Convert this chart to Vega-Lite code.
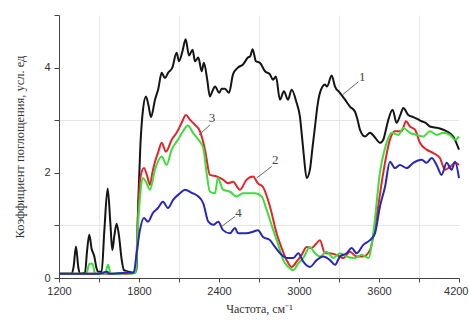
{
"$schema": "https://vega.github.io/schema/vega-lite/v6.json",
"width": 400, "height": 263,
"autosize": {"type": "none"},
"padding": {"left": 59, "top": 15, "right": 10, "bottom": 42},
"background": "white",
"config": {"view": {"stroke": null}},
"datasets": {
"spectra": [
{"x":1200,"y":0.08,"s":"1"},{"x":1295,"y":0.08,"s":"1"},{"x":1310,"y":0.22,"s":"1"},{"x":1327,"y":0.6,"s":"1"},{"x":1345,"y":0.2,"s":"1"},{"x":1360,"y":0.08,"s":"1"},{"x":1395,"y":0.1,"s":"1"},{"x":1410,"y":0.5,"s":"1"},{"x":1427,"y":0.82,"s":"1"},{"x":1445,"y":0.55,"s":"1"},{"x":1465,"y":0.41,"s":"1"},{"x":1480,"y":0.2,"s":"1"},{"x":1495,"y":0.12,"s":"1"},{"x":1520,"y":0.12,"s":"1"},{"x":1540,"y":0.9,"s":"1"},{"x":1565,"y":1.7,"s":"1"},{"x":1585,"y":1.05,"s":"1"},{"x":1600,"y":0.53,"s":"1"},{"x":1615,"y":0.8,"s":"1"},{"x":1632,"y":1.03,"s":"1"},{"x":1650,"y":0.8,"s":"1"},{"x":1670,"y":0.35,"s":"1"},{"x":1687,"y":0.15,"s":"1"},{"x":1720,"y":0.12,"s":"1"},{"x":1760,"y":0.1,"s":"1"},{"x":1780,"y":0.15,"s":"1"},{"x":1795,"y":1.5,"s":"1"},{"x":1810,"y":2.5,"s":"1"},{"x":1830,"y":3.2,"s":"1"},{"x":1852,"y":3.45,"s":"1"},{"x":1870,"y":3.3,"s":"1"},{"x":1890,"y":3.06,"s":"1"},{"x":1920,"y":3.39,"s":"1"},{"x":1945,"y":3.6,"s":"1"},{"x":1970,"y":3.9,"s":"1"},{"x":1995,"y":3.8,"s":"1"},{"x":2018,"y":3.9,"s":"1"},{"x":2050,"y":4.0,"s":"1"},{"x":2082,"y":4.28,"s":"1"},{"x":2100,"y":4.12,"s":"1"},{"x":2125,"y":4.3,"s":"1"},{"x":2150,"y":4.54,"s":"1"},{"x":2175,"y":4.23,"s":"1"},{"x":2202,"y":4.34,"s":"1"},{"x":2220,"y":4.12,"s":"1"},{"x":2245,"y":4.19,"s":"1"},{"x":2270,"y":3.93,"s":"1"},{"x":2287,"y":4.09,"s":"1"},{"x":2310,"y":3.8,"s":"1"},{"x":2332,"y":3.45,"s":"1"},{"x":2350,"y":3.55,"s":"1"},{"x":2370,"y":3.64,"s":"1"},{"x":2402,"y":3.52,"s":"1"},{"x":2420,"y":3.6,"s":"1"},{"x":2445,"y":3.6,"s":"1"},{"x":2475,"y":3.52,"s":"1"},{"x":2505,"y":3.87,"s":"1"},{"x":2542,"y":4.0,"s":"1"},{"x":2580,"y":4.06,"s":"1"},{"x":2617,"y":4.19,"s":"1"},{"x":2635,"y":4.22,"s":"1"},{"x":2652,"y":4.35,"s":"1"},{"x":2677,"y":4.12,"s":"1"},{"x":2707,"y":4.09,"s":"1"},{"x":2745,"y":3.93,"s":"1"},{"x":2782,"y":3.87,"s":"1"},{"x":2805,"y":3.77,"s":"1"},{"x":2827,"y":3.83,"s":"1"},{"x":2857,"y":3.39,"s":"1"},{"x":2887,"y":3.55,"s":"1"},{"x":2917,"y":3.39,"s":"1"},{"x":2945,"y":3.58,"s":"1"},{"x":2982,"y":3.33,"s":"1"},{"x":3007,"y":3.07,"s":"1"},{"x":3022,"y":2.7,"s":"1"},{"x":3037,"y":2.31,"s":"1"},{"x":3057,"y":1.9,"s":"1"},{"x":3082,"y":2.06,"s":"1"},{"x":3100,"y":2.45,"s":"1"},{"x":3120,"y":2.88,"s":"1"},{"x":3140,"y":3.3,"s":"1"},{"x":3157,"y":3.52,"s":"1"},{"x":3195,"y":3.68,"s":"1"},{"x":3210,"y":3.64,"s":"1"},{"x":3245,"y":3.85,"s":"1"},{"x":3270,"y":3.64,"s":"1"},{"x":3307,"y":3.52,"s":"1"},{"x":3345,"y":3.39,"s":"1"},{"x":3382,"y":3.26,"s":"1"},{"x":3420,"y":3.16,"s":"1"},{"x":3440,"y":3.0,"s":"1"},{"x":3457,"y":2.82,"s":"1"},{"x":3495,"y":2.69,"s":"1"},{"x":3532,"y":2.76,"s":"1"},{"x":3570,"y":2.67,"s":"1"},{"x":3607,"y":2.57,"s":"1"},{"x":3632,"y":2.63,"s":"1"},{"x":3650,"y":2.8,"s":"1"},{"x":3670,"y":3.01,"s":"1"},{"x":3702,"y":3.2,"s":"1"},{"x":3732,"y":2.95,"s":"1"},{"x":3760,"y":3.1,"s":"1"},{"x":3782,"y":3.23,"s":"1"},{"x":3820,"y":3.1,"s":"1"},{"x":3857,"y":3.06,"s":"1"},{"x":3890,"y":3.02,"s":"1"},{"x":3920,"y":2.98,"s":"1"},{"x":3950,"y":2.95,"s":"1"},{"x":3982,"y":2.88,"s":"1"},{"x":4045,"y":2.85,"s":"1"},{"x":4107,"y":2.79,"s":"1"},{"x":4157,"y":2.69,"s":"1"},{"x":4200,"y":2.44,"s":"1"},
{"x":1200,"y":0.08,"s":"2"},{"x":1500,"y":0.08,"s":"2"},{"x":1700,"y":0.08,"s":"2"},{"x":1775,"y":0.1,"s":"2"},{"x":1792,"y":1.17,"s":"2"},{"x":1810,"y":1.9,"s":"2"},{"x":1837,"y":2.09,"s":"2"},{"x":1860,"y":1.95,"s":"2"},{"x":1882,"y":1.77,"s":"2"},{"x":1900,"y":2.0,"s":"2"},{"x":1920,"y":2.21,"s":"2"},{"x":1945,"y":2.4,"s":"2"},{"x":1970,"y":2.57,"s":"2"},{"x":2002,"y":2.4,"s":"2"},{"x":2045,"y":2.63,"s":"2"},{"x":2082,"y":2.76,"s":"2"},{"x":2120,"y":2.95,"s":"2"},{"x":2152,"y":3.1,"s":"2"},{"x":2182,"y":3.01,"s":"2"},{"x":2220,"y":2.91,"s":"2"},{"x":2257,"y":2.79,"s":"2"},{"x":2295,"y":2.44,"s":"2"},{"x":2332,"y":1.96,"s":"2"},{"x":2382,"y":1.93,"s":"2"},{"x":2430,"y":1.87,"s":"2"},{"x":2467,"y":1.8,"s":"2"},{"x":2505,"y":1.83,"s":"2"},{"x":2557,"y":1.68,"s":"2"},{"x":2607,"y":1.87,"s":"2"},{"x":2655,"y":1.93,"s":"2"},{"x":2692,"y":1.8,"s":"2"},{"x":2730,"y":1.73,"s":"2"},{"x":2782,"y":1.36,"s":"2"},{"x":2832,"y":0.85,"s":"2"},{"x":2870,"y":0.57,"s":"2"},{"x":2907,"y":0.34,"s":"2"},{"x":2945,"y":0.21,"s":"2"},{"x":2982,"y":0.31,"s":"2"},{"x":3020,"y":0.44,"s":"2"},{"x":3057,"y":0.59,"s":"2"},{"x":3095,"y":0.57,"s":"2"},{"x":3132,"y":0.66,"s":"2"},{"x":3157,"y":0.72,"s":"2"},{"x":3195,"y":0.47,"s":"2"},{"x":3232,"y":0.47,"s":"2"},{"x":3282,"y":0.44,"s":"2"},{"x":3332,"y":0.38,"s":"2"},{"x":3382,"y":0.5,"s":"2"},{"x":3432,"y":0.41,"s":"2"},{"x":3482,"y":0.41,"s":"2"},{"x":3532,"y":0.53,"s":"2"},{"x":3582,"y":1.17,"s":"2"},{"x":3632,"y":2.0,"s":"2"},{"x":3682,"y":2.63,"s":"2"},{"x":3720,"y":2.79,"s":"2"},{"x":3770,"y":2.79,"s":"2"},{"x":3802,"y":2.98,"s":"2"},{"x":3832,"y":2.88,"s":"2"},{"x":3870,"y":2.82,"s":"2"},{"x":3907,"y":2.57,"s":"2"},{"x":3957,"y":2.44,"s":"2"},{"x":4005,"y":2.38,"s":"2"},{"x":4057,"y":2.28,"s":"2"},{"x":4095,"y":2.06,"s":"2"},{"x":4132,"y":2.11,"s":"2"},{"x":4170,"y":2.19,"s":"2"},{"x":4200,"y":2.15,"s":"2"},
{"x":1200,"y":0.08,"s":"3"},{"x":1405,"y":0.08,"s":"3"},{"x":1428,"y":0.27,"s":"3"},{"x":1450,"y":0.27,"s":"3"},{"x":1472,"y":0.08,"s":"3"},{"x":1545,"y":0.08,"s":"3"},{"x":1568,"y":0.25,"s":"3"},{"x":1588,"y":0.08,"s":"3"},{"x":1680,"y":0.08,"s":"3"},{"x":1700,"y":0.11,"s":"3"},{"x":1720,"y":0.08,"s":"3"},{"x":1775,"y":0.1,"s":"3"},{"x":1792,"y":0.97,"s":"3"},{"x":1810,"y":1.6,"s":"3"},{"x":1827,"y":1.9,"s":"3"},{"x":1852,"y":1.83,"s":"3"},{"x":1882,"y":1.68,"s":"3"},{"x":1920,"y":2.06,"s":"3"},{"x":1970,"y":2.31,"s":"3"},{"x":2007,"y":2.15,"s":"3"},{"x":2045,"y":2.44,"s":"3"},{"x":2092,"y":2.63,"s":"3"},{"x":2130,"y":2.79,"s":"3"},{"x":2167,"y":2.9,"s":"3"},{"x":2205,"y":2.76,"s":"3"},{"x":2245,"y":2.63,"s":"3"},{"x":2282,"y":2.47,"s":"3"},{"x":2307,"y":2.0,"s":"3"},{"x":2332,"y":1.64,"s":"3"},{"x":2370,"y":1.61,"s":"3"},{"x":2392,"y":1.9,"s":"3"},{"x":2430,"y":1.68,"s":"3"},{"x":2482,"y":1.64,"s":"3"},{"x":2532,"y":1.55,"s":"3"},{"x":2580,"y":1.61,"s":"3"},{"x":2607,"y":1.61,"s":"3"},{"x":2670,"y":1.61,"s":"3"},{"x":2720,"y":1.55,"s":"3"},{"x":2757,"y":1.3,"s":"3"},{"x":2807,"y":0.91,"s":"3"},{"x":2845,"y":0.63,"s":"3"},{"x":2882,"y":0.34,"s":"3"},{"x":2920,"y":0.21,"s":"3"},{"x":2957,"y":0.15,"s":"3"},{"x":2995,"y":0.28,"s":"3"},{"x":3032,"y":0.38,"s":"3"},{"x":3082,"y":0.59,"s":"3"},{"x":3120,"y":0.47,"s":"3"},{"x":3157,"y":0.41,"s":"3"},{"x":3207,"y":0.5,"s":"3"},{"x":3257,"y":0.38,"s":"3"},{"x":3307,"y":0.47,"s":"3"},{"x":3357,"y":0.41,"s":"3"},{"x":3420,"y":0.38,"s":"3"},{"x":3470,"y":0.44,"s":"3"},{"x":3520,"y":0.38,"s":"3"},{"x":3557,"y":0.85,"s":"3"},{"x":3607,"y":2.0,"s":"3"},{"x":3657,"y":2.57,"s":"3"},{"x":3695,"y":2.76,"s":"3"},{"x":3745,"y":2.72,"s":"3"},{"x":3782,"y":2.85,"s":"3"},{"x":3832,"y":2.76,"s":"3"},{"x":3882,"y":2.72,"s":"3"},{"x":3932,"y":2.69,"s":"3"},{"x":3982,"y":2.79,"s":"3"},{"x":4032,"y":2.72,"s":"3"},{"x":4082,"y":2.76,"s":"3"},{"x":4132,"y":2.72,"s":"3"},{"x":4170,"y":2.63,"s":"3"},{"x":4200,"y":2.69,"s":"3"},
{"x":1200,"y":0.08,"s":"4"},{"x":1500,"y":0.08,"s":"4"},{"x":1560,"y":0.12,"s":"4"},{"x":1580,"y":0.08,"s":"4"},{"x":1700,"y":0.1,"s":"4"},{"x":1760,"y":0.1,"s":"4"},{"x":1782,"y":0.47,"s":"4"},{"x":1807,"y":0.91,"s":"4"},{"x":1837,"y":1.14,"s":"4"},{"x":1867,"y":1.07,"s":"4"},{"x":1905,"y":1.24,"s":"4"},{"x":1942,"y":1.33,"s":"4"},{"x":1980,"y":1.45,"s":"4"},{"x":2017,"y":1.33,"s":"4"},{"x":2057,"y":1.49,"s":"4"},{"x":2107,"y":1.61,"s":"4"},{"x":2145,"y":1.68,"s":"4"},{"x":2195,"y":1.62,"s":"4"},{"x":2245,"y":1.55,"s":"4"},{"x":2282,"y":1.42,"s":"4"},{"x":2320,"y":1.07,"s":"4"},{"x":2357,"y":1.01,"s":"4"},{"x":2395,"y":1.07,"s":"4"},{"x":2430,"y":0.91,"s":"4"},{"x":2482,"y":0.85,"s":"4"},{"x":2520,"y":0.95,"s":"4"},{"x":2542,"y":0.85,"s":"4"},{"x":2607,"y":0.85,"s":"4"},{"x":2655,"y":0.88,"s":"4"},{"x":2692,"y":0.91,"s":"4"},{"x":2730,"y":0.78,"s":"4"},{"x":2782,"y":0.72,"s":"4"},{"x":2820,"y":0.59,"s":"4"},{"x":2870,"y":0.44,"s":"4"},{"x":2907,"y":0.38,"s":"4"},{"x":2957,"y":0.38,"s":"4"},{"x":2995,"y":0.47,"s":"4"},{"x":3032,"y":0.31,"s":"4"},{"x":3082,"y":0.21,"s":"4"},{"x":3132,"y":0.34,"s":"4"},{"x":3182,"y":0.41,"s":"4"},{"x":3232,"y":0.34,"s":"4"},{"x":3270,"y":0.25,"s":"4"},{"x":3307,"y":0.41,"s":"4"},{"x":3357,"y":0.47,"s":"4"},{"x":3395,"y":0.57,"s":"4"},{"x":3432,"y":0.47,"s":"4"},{"x":3482,"y":0.63,"s":"4"},{"x":3532,"y":0.72,"s":"4"},{"x":3570,"y":0.85,"s":"4"},{"x":3607,"y":1.36,"s":"4"},{"x":3645,"y":1.73,"s":"4"},{"x":3682,"y":2.21,"s":"4"},{"x":3720,"y":2.09,"s":"4"},{"x":3757,"y":2.15,"s":"4"},{"x":3807,"y":2.09,"s":"4"},{"x":3857,"y":2.19,"s":"4"},{"x":3920,"y":2.25,"s":"4"},{"x":3957,"y":2.19,"s":"4"},{"x":3995,"y":2.28,"s":"4"},{"x":4032,"y":2.15,"s":"4"},{"x":4070,"y":1.96,"s":"4"},{"x":4107,"y":2.19,"s":"4"},{"x":4145,"y":2.06,"s":"4"},{"x":4170,"y":2.21,"s":"4"},{"x":4200,"y":1.9,"s":"4"}
],
"leaders": [
{"x":3330,"y":3.49,"x2":3445,"y2":3.73},
{"x":2682,"y":1.9,"x2":2795,"y2":2.12},
{"x":2250,"y":2.72,"x2":2332,"y2":2.91},
{"x":2420,"y":0.98,"x2":2520,"y2":1.17}
],
"labels": [
{"x":3475,"y":3.83,"t":"1"},
{"x":2822,"y":2.25,"t":"2"},
{"x":2347,"y":3.05,"t":"3"},
{"x":2547,"y":1.23,"t":"4"}
]
},
"encoding": {
"x": {"field": "x", "type": "quantitative",
  "scale": {"domain": [1200, 4200], "nice": false, "zero": false},
  "axis": {"values": [1200,1500,1800,2100,2400,2700,3000,3300,3600,3900,4200],
    "labelExpr": "datum.value % 600 == 0 ? datum.label : ''", "format": "d",
    "labelFlush": false, "labelOverlap": false,
    "labelAlign": {"condition": {"test": "datum.value == 4200", "value": "right"}, "value": "center"},
    "labelOffset": {"condition": {"test": "datum.value == 4200", "value": 9}, "value": 0},
    "grid": true, "gridColor": "#e6e6e6",
    "gridOpacity": {"condition": {"test": "datum.value % 600 == 300", "value": 1}, "value": 0},
    "tickSize": 4, "tickColor": "#444", "domainColor": "#444", "labelPadding": 3,
    "labelFont": "Liberation Sans", "labelFontSize": 11, "labelColor": "#333",
    "title": "Частота, см⁻¹", "titleFont": "Liberation Serif", "titleFontWeight": "normal",
    "titleFontSize": 12, "titleColor": "#333", "titlePadding": 7}},
"y": {"field": "y", "type": "quantitative",
  "scale": {"domain": [0, 5], "nice": false},
  "axis": {"values": [0,1,2,3,4,5],
    "labelExpr": "(datum.value == 0 || datum.value == 2 || datum.value == 4) ? datum.label : ''",
    "labelFlush": false,
    "grid": true, "gridColor": "#e6e6e6",
    "gridOpacity": {"condition": {"test": "datum.value == 1 || datum.value == 3", "value": 1}, "value": 0},
    "tickSize": 5, "tickColor": "#444", "domainColor": "#444", "labelPadding": 4,
    "labelFont": "Liberation Sans", "labelFontSize": 11, "labelColor": "#333",
    "title": "Коэффициент поглощения, усл. ед", "titleFont": "Liberation Serif", "titleFontWeight": "normal",
    "titleFontSize": 12.5, "titleColor": "#333", "titlePadding": 17}}
},
"layer": [
{"data": {"name": "spectra"},
 "mark": {"type": "line", "interpolate": "monotone", "strokeWidth": 2},
 "encoding": {"color": {"field": "s", "type": "nominal", "legend": null,
   "scale": {"domain": ["1","2","3","4"], "range": ["#151515", "#e0262b", "#3fdc3a", "#2828b4"]}}}},
{"data": {"name": "leaders"},
 "mark": {"type": "rule", "color": "#666", "strokeWidth": 1},
 "encoding": {"x2": {"field": "x2"}, "y2": {"field": "y2"}}},
{"data": {"name": "labels"},
 "mark": {"type": "text", "font": "Liberation Serif", "fontSize": 13, "color": "#444"},
 "encoding": {"text": {"field": "t"}}}
]
}
